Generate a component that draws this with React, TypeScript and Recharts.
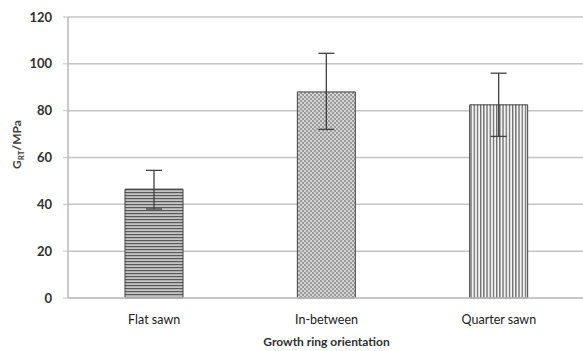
import React from 'react';
import { BarChart, Bar, XAxis, YAxis, CartesianGrid, ErrorBar, Cell } from 'recharts';

const categories = ['Flat sawn', 'In-between', 'Quarter sawn'];
const means = [46.5, 88, 82.5];
const errLow = [8.5, 16, 13.5];
const errHigh = [8, 16.5, 13.5];
const yTicks = [0, 20, 40, 60, 80, 100, 120];

const patternIds = ['pat-flat', 'pat-between', 'pat-quarter'];

const data = categories.map((name, i) => ({
  name,
  value: means[i],
  err: [errLow[i], errHigh[i]],
}));

const FONT = 'Lato, "Open Sans", sans-serif';

const YLabel = ({ viewBox }: any) => {
  const x = 21;
  const y = viewBox.y + viewBox.height / 2 - 13;
  return (
    <text
      x={x}
      y={y}
      transform={`rotate(-90, ${x}, ${y})`}
      textAnchor="middle"
      fill="#404040"
      fontFamily={FONT}
      fontSize={12}
      fontWeight="bold"
    >
      G<tspan fontSize={8} dy={3}>RT</tspan>
      <tspan dy={-3}>/MPa</tspan>
    </text>
  );
};

const App: React.FC = () => {
  return (
    <div style={{ position: 'absolute', left: 0, top: 0, width: 583, height: 351, overflow: 'hidden', background: '#fff' }}>
      <BarChart
        width={590}
        height={351}
        data={data}
        margin={{ top: 17, right: 5, bottom: 0, left: 0 }}
        barCategoryGap="33%"
      >
        <defs>
          <pattern id="pat-flat" width="6" height="3" patternUnits="userSpaceOnUse">
            <rect width="6" height="3" fill="#c4c4c4" />
            <rect y="0" width="6" height="1.2" fill="#5a5a5a" />
          </pattern>
          <pattern id="pat-between" width="4" height="4" patternUnits="userSpaceOnUse">
            <rect width="4" height="4" fill="#d4d4d4" />
            <rect x="0" y="0" width="2" height="2" fill="#9a9a9a" />
            <rect x="2" y="2" width="2" height="2" fill="#9a9a9a" />
          </pattern>
          <pattern id="pat-quarter" width="3.2" height="6" patternUnits="userSpaceOnUse">
            <rect width="3.2" height="6" fill="#f4f4f4" />
            <rect x="0" width="1.3" height="6" fill="#6a6a6a" />
          </pattern>
        </defs>
        <CartesianGrid vertical={false} stroke="#c4c4c4" strokeWidth={1.5} />
        <XAxis
          dataKey="name"
          height={53}
          tickLine={false}
          axisLine={{ stroke: '#c4c4c4', strokeWidth: 1.5 }}
          tick={{ fill: '#202020', fontSize: 12.5, fontFamily: FONT }}
          tickMargin={11}
          label={{
            value: 'Growth ring orientation',
            position: 'insideBottom',
            offset: 5,
            fill: '#303030',
            fontSize: 12,
            fontWeight: 'bold',
            fontFamily: FONT,
          }}
        />
        <YAxis
          width={68}
          domain={[0, 120]}
          ticks={yTicks}
          interval={0}
          tickSize={5}
          tickLine={{ stroke: '#c4c4c4' }}
          axisLine={{ stroke: '#b8b8b8', strokeWidth: 1.5 }}
          tick={{ fill: '#303030', fontSize: 13, fontWeight: 'bold', fontFamily: FONT }}
          tickMargin={11}
          label={<YLabel />}
        />
        <Bar dataKey="value" barSize={58} stroke="#404040" strokeWidth={1} isAnimationActive={false}>
          {data.map((d, i) => (
            <Cell key={d.name} fill={`url(#${patternIds[i]})`} />
          ))}
          <ErrorBar dataKey="err" width={8} stroke="#404040" strokeWidth={1.3} />
        </Bar>
      </BarChart>
    </div>
  );
};

export default App;
